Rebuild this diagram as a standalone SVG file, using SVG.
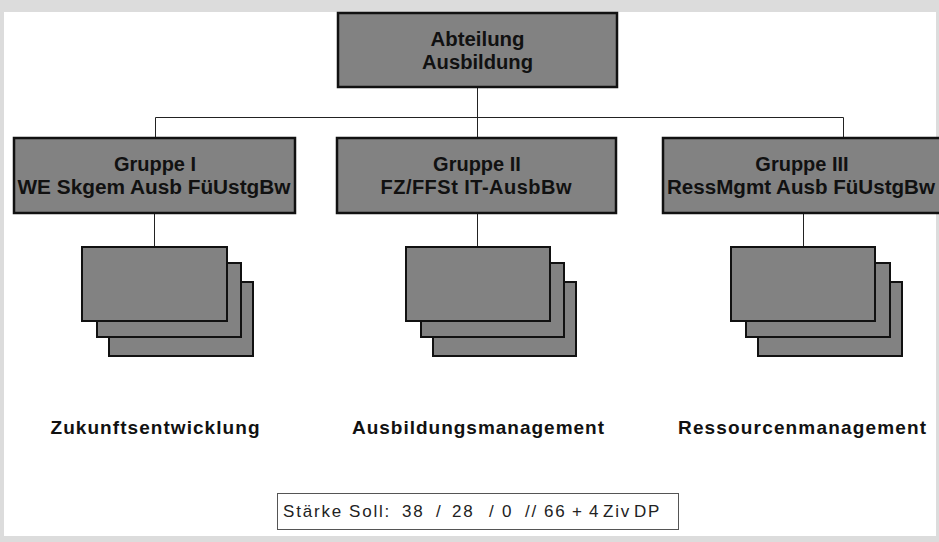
<svg xmlns="http://www.w3.org/2000/svg" width="939" height="542" viewBox="0 0 939 542">
<style>
.box{fill:#828282;stroke:#111;stroke-width:2.5}
.card{fill:#828282;stroke:#111;stroke-width:2}
.t{font-family:"Liberation Sans",Arial,sans-serif;font-weight:bold;font-size:20px;fill:#111;text-anchor:middle}
.lbl{font-family:"Liberation Sans",Arial,sans-serif;font-weight:bold;font-size:19px;fill:#111;text-anchor:middle}
.ln{stroke:#222;stroke-width:1;fill:none}
.st{font-family:"Liberation Sans",Arial,sans-serif;font-size:17px;letter-spacing:1.8px;fill:#222}
</style>
<rect x="0" y="0" width="939" height="542" fill="#dcdcdc"/>
<rect x="4" y="12" width="932" height="524" fill="#ffffff"/>
<g id="connectors">
<path class="ln" d="M477.5 87V117.5M155.5 117.5H843.5M155.5 117.5V138M843.5 117.5V138M477.5 117.5V138"/>
<path class="ln" d="M154.5 213V247M477.5 213V247M803.5 213V247"/>
</g>
<g id="abteilung">
<rect class="box" x="338" y="13" width="279" height="74" stroke-width="3"/>
<text class="t" x="477.5" y="46" textLength="94" lengthAdjust="spacingAndGlyphs">Abteilung</text>
<text class="t" x="477.5" y="69" textLength="111" lengthAdjust="spacingAndGlyphs">Ausbildung</text>
</g>
<g id="gruppe1">
<rect class="box" x="14" y="138" width="281" height="75"/>
<text class="t" x="155" y="171">Gruppe I</text>
<text class="t" x="154" y="194" textLength="273" lengthAdjust="spacingAndGlyphs">WE Skgem Ausb FüUstgBw</text>
</g>
<g id="gruppe2">
<rect class="box" x="337" y="138" width="279" height="75"/>
<text class="t" x="477" y="171">Gruppe II</text>
<text class="t" x="476" y="194" textLength="191" lengthAdjust="spacing">FZ/FFSt IT-AusbBw</text>
</g>
<g id="gruppe3">
<rect class="box" x="663" y="138" width="290" height="75"/>
<text class="t" x="802" y="171">Gruppe III</text>
<text class="t" x="801" y="194" textLength="268" lengthAdjust="spacingAndGlyphs">RessMgmt Ausb FüUstgBw</text>
</g>
<g id="stack1">
<rect class="card" x="109" y="282" width="144" height="74"/>
<rect class="card" x="97" y="263" width="144" height="74"/>
<rect class="card" x="82" y="247" width="145" height="74"/>
</g>
<g id="stack2">
<rect class="card" x="433" y="282" width="143" height="74"/>
<rect class="card" x="421" y="263" width="143" height="74"/>
<rect class="card" x="406" y="247" width="144" height="74"/>
</g>
<g id="stack3">
<rect class="card" x="758" y="282" width="144" height="74"/>
<rect class="card" x="746" y="263" width="144" height="74"/>
<rect class="card" x="731" y="247" width="144" height="74"/>
</g>
<g id="label1"><text class="lbl" x="155" y="434" textLength="209" lengthAdjust="spacing">Zukunftsentwicklung</text></g>
<g id="label2"><text class="lbl" x="478" y="434" textLength="252" lengthAdjust="spacing">Ausbildungsmanagement</text></g>
<g id="label3"><text class="lbl" x="802" y="434" textLength="248" lengthAdjust="spacing">Ressourcenmanagement</text></g>
<g id="staerke">
<rect x="277.5" y="493.5" width="401" height="36" fill="#fff" stroke="#555" stroke-width="1"/>
<text class="st" y="517"><tspan x="283">Stärke</tspan><tspan x="349">Soll:</tspan><tspan x="402">38</tspan><tspan x="436">/</tspan><tspan x="452">28</tspan><tspan x="489">/</tspan><tspan x="502">0</tspan><tspan x="525">//</tspan><tspan x="544">66</tspan><tspan x="572">+</tspan><tspan x="589">4</tspan><tspan x="603">Ziv</tspan><tspan x="634">DP</tspan></text>
</g>
</svg>
